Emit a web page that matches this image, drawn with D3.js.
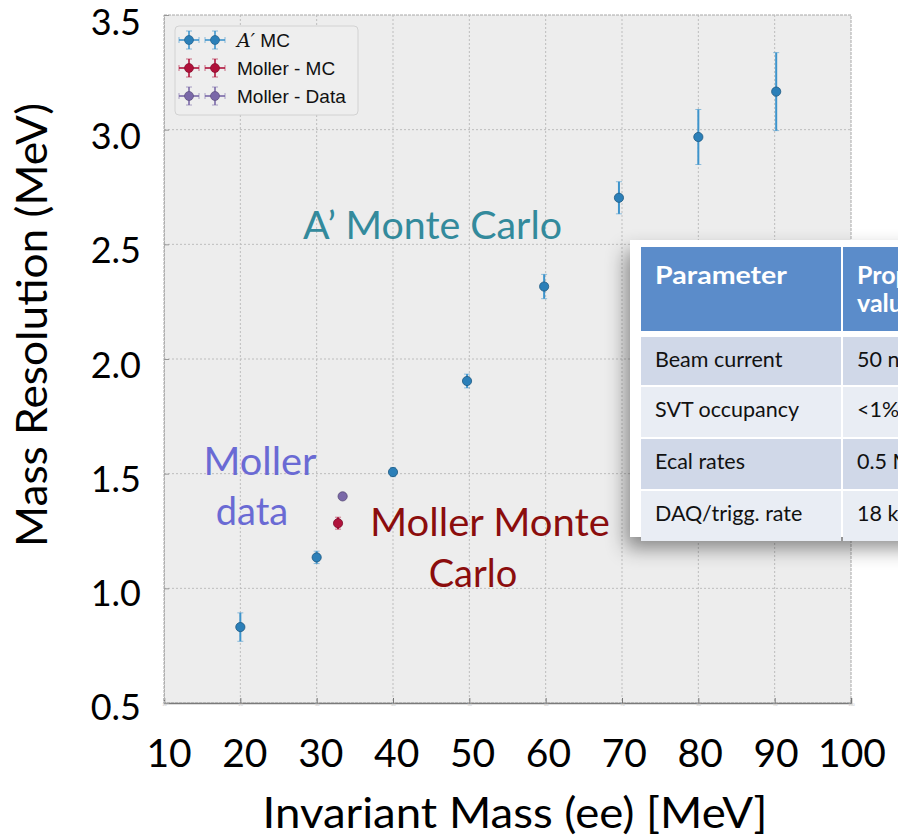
<!DOCTYPE html>
<html>
<head>
<meta charset="utf-8">
<script src="https://cdn.jsdelivr.net/npm/d3@7"></script>
<style>
  html, body { margin: 0; padding: 0; background: #ffffff; }
  svg { display: block; }
</style>
</head>
<body>
<svg id="chart" width="898" height="836"></svg>
<script>
// A' Monte Carlo mass resolution vs invariant mass
const apMass  = [20, 30, 40, 49.7, 59.8, 69.6, 80, 90.2];
const apRes   = [0.831, 1.135, 1.507, 1.904, 2.316, 2.703, 2.968, 3.166];
const apErr   = [0.062, 0.027, 0.020, 0.030, 0.053, 0.070, 0.120, 0.170];

// Moller Monte Carlo and Moller data
const mcMass   = [32.8];
const mcRes    = [1.284];
const mcErr    = [0.026];
const dataMass = [33.4];
const dataRes  = [1.401];
const dataErr  = [0.008];

// Axis tick labels
const xTicks = [10, 20, 30, 40, 50, 60, 70, 80, 90, 100];
const yTicks = [0.5, 1.0, 1.5, 2.0, 2.5, 3.0, 3.5];

// Legend entries
const legendLabels = ["MC", "Moller - MC", "Moller - Data"];

// Parameter table
const tableHeader = [["Parameter"], ["Proposed", "value"]];
const tableParams = ["Beam current", "SVT occupancy", "Ecal rates", "DAQ/trigg. rate"];
const tableValues = ["50 nA", "<1%", "0.5 MHz", "18 kHz"];

const colors = { ap: "#2b7fb8", apBar: "#3d94cc", mc: "#b0123b", data: "#7a68a8" };

const svg = d3.select("#chart");
const calibri = "Lato, 'Open Sans', sans-serif";

const x = d3.scaleLinear().domain([10, 100]).range([164, 851]);
const y = d3.scaleLinear().domain([0.5, 3.5]).range([703, 15]);
// slide-level tick labels sit on a slightly different grid
const xl = d3.scaleLinear().domain([10, 100]).range([169, 852]);
const yl = d3.scaleLinear().domain([0.5, 3.5]).range([707, 22]);

const defs = svg.append("defs");
const shadow = defs.append("filter").attr("id", "shadow")
  .attr("x", "-20%").attr("y", "-20%").attr("width", "140%").attr("height", "150%");
shadow.append("feDropShadow").attr("dx", -4).attr("dy", 11)
  .attr("stdDeviation", 10).attr("flood-color", "#000").attr("flood-opacity", 0.45);
defs.append("clipPath").attr("id", "tableClip")
  .append("rect").attr("x", 590).attr("y", 200).attr("width", 308).attr("height", 400);

// plot panel
const plot = svg.append("g");
plot.append("rect").attr("x", x(10)).attr("y", y(3.5))
  .attr("width", x(100) - x(10)).attr("height", y(0.5) - y(3.5))
  .attr("fill", "#ededed").attr("stroke", "#a8a8a8").attr("stroke-width", 1)
  .attr("stroke-dasharray", "3,1");

// dotted grid
plot.append("g").selectAll("line").data(xTicks.slice(1, -1)).join("line")
  .attr("x1", d => x(d)).attr("x2", d => x(d))
  .attr("y1", y(3.5)).attr("y2", y(0.5))
  .attr("stroke", "#bdbdbd").attr("stroke-width", 1).attr("stroke-dasharray", "2,2");
plot.append("g").selectAll("line").data(yTicks.slice(1, -1)).join("line")
  .attr("x1", x(10)).attr("x2", x(100))
  .attr("y1", d => y(d)).attr("y2", d => y(d))
  .attr("stroke", "#bdbdbd").attr("stroke-width", 1).attr("stroke-dasharray", "2,2");

// inner axes
const xAxisInner = d3.axisBottom(x).tickValues(xTicks).tickSize(-5).tickFormat(d3.format("d"));
const gx = plot.append("g").attr("transform", `translate(0,${y(0.5)})`).call(xAxisInner);
gx.select(".domain").attr("stroke", "#7a7a7a").attr("stroke-width", 1.5);
gx.selectAll(".tick line").attr("stroke", "#777");
gx.selectAll(".tick text").attr("font-size", 4).attr("fill", "#c4c4c4").attr("dy", 0);
const yAxisInner = d3.axisLeft(y).tickValues(yTicks).tickSize(-5).tickFormat("");
const gy = plot.append("g").attr("transform", `translate(${x(10)},0)`).call(yAxisInner);
gy.select(".domain").attr("stroke", "#b0b0b0").attr("stroke-width", 1).attr("stroke-dasharray", "3,1");
gy.selectAll(".tick line").attr("stroke", "#999");

// error bar points
function drawSeries(xs, ys, es, fill, barColor) {
  const g = plot.append("g");
  const pts = xs.map((m, i) => ({ m, v: ys[i], e: es[i] }));
  g.selectAll("line.bar").data(pts).join("line").attr("class", "bar")
    .attr("x1", d => x(d.m)).attr("x2", d => x(d.m))
    .attr("y1", d => y(d.v + d.e)).attr("y2", d => y(d.v - d.e))
    .attr("stroke", barColor).attr("stroke-width", 2);
  ["+", "-"].forEach(s => {
    g.selectAll("line.cap" + (s === "+" ? "t" : "b")).data(pts).join("line")
      .attr("class", "cap" + (s === "+" ? "t" : "b"))
      .attr("x1", d => x(d.m) - 3).attr("x2", d => x(d.m) + 3)
      .attr("y1", d => y(s === "+" ? d.v + d.e : d.v - d.e))
      .attr("y2", d => y(s === "+" ? d.v + d.e : d.v - d.e))
      .attr("stroke", barColor).attr("stroke-opacity", 0.55).attr("stroke-width", 1);
  });
  g.selectAll("circle").data(pts).join("circle")
    .attr("cx", d => x(d.m)).attr("cy", d => y(d.v)).attr("r", 4.6)
    .attr("fill", fill).attr("stroke", d3.color(fill).darker(1)).attr("stroke-width", 0.8);
}
drawSeries(apMass, apRes, apErr, colors.ap, colors.apBar);
drawSeries(mcMass, mcRes, mcErr, colors.mc, colors.mc);
drawSeries(dataMass, dataRes, dataErr, colors.data, colors.data);

// legend
const leg = plot.append("g");
leg.append("rect").attr("x", 175).attr("y", 26).attr("width", 183).attr("height", 89)
  .attr("rx", 4).attr("fill", "#eeeeee").attr("stroke", "#d2d2d2");
const legColors = [[colors.ap, colors.apBar], [colors.mc, colors.mc], [colors.data, colors.data]];
legendLabels.forEach((lab, i) => {
  const cy = 40 + i * 28;
  [189, 215].forEach(cx => {
    const [f, b] = legColors[i];
    leg.append("line").attr("x1", cx - 10).attr("x2", cx + 10).attr("y1", cy).attr("y2", cy)
      .attr("stroke", b).attr("stroke-width", 1.6);
    leg.append("line").attr("x1", cx).attr("x2", cx).attr("y1", cy - 9).attr("y2", cy + 9)
      .attr("stroke", b).attr("stroke-width", 1.6);
    [[cx - 10, cx - 10, cy - 3, cy + 3], [cx + 10, cx + 10, cy - 3, cy + 3],
     [cx - 3, cx + 3, cy - 9, cy - 9], [cx - 3, cx + 3, cy + 9, cy + 9]].forEach(c => {
      leg.append("line").attr("x1", c[0]).attr("x2", c[1]).attr("y1", c[2]).attr("y2", c[3])
        .attr("stroke", b).attr("stroke-opacity", 0.6).attr("stroke-width", 1);
    });
    leg.append("circle").attr("cx", cx).attr("cy", cy).attr("r", 4.5)
      .attr("fill", f).attr("stroke", d3.color(f).darker(1)).attr("stroke-width", 0.6);
  });
  const t = leg.append("text").attr("x", 237).attr("y", cy + 7)
    .attr("font-family", "'Liberation Sans', Arial, sans-serif").attr("font-size", 19).attr("fill", "#111");
  if (i === 0) {
    t.append("tspan").attr("font-family", "'DejaVu Serif', serif").attr("font-style", "italic").text("A′");
    t.append("tspan").text(" " + lab);
  } else {
    t.text(lab);
  }
});

// annotations
const ann = svg.append("g").attr("font-family", calibri).attr("font-size", 38);
ann.append("text").attr("x", 303).attr("y", 239).attr("fill", "#338a9c")
  .attr("textLength", 259).attr("lengthAdjust", "spacingAndGlyphs").text("A’ Monte Carlo");
ann.append("text").attr("x", 260).attr("y", 475).attr("text-anchor", "middle").attr("fill", "#6a6ad4")
  .attr("textLength", 113).attr("lengthAdjust", "spacingAndGlyphs").text("Moller");
ann.append("text").attr("x", 252).attr("y", 525).attr("text-anchor", "middle").attr("fill", "#6a6ad4")
  .text("data");
ann.append("text").attr("x", 490).attr("y", 536).attr("text-anchor", "middle").attr("fill", "#8b0d0d")
  .attr("textLength", 240).attr("lengthAdjust", "spacingAndGlyphs").text("Moller Monte");
ann.append("text").attr("x", 473).attr("y", 587).attr("text-anchor", "middle").attr("fill", "#8b0d0d")
  .text("Carlo");

// slide-level tick labels and titles
const lab = svg.append("g").attr("font-family", calibri).attr("fill", "#000");
lab.selectAll("text.xt").data(xTicks).join("text").attr("class", "xt")
  .attr("x", d => xl(d)).attr("y", 767).attr("text-anchor", "middle")
  .attr("font-size", 39).text(d => d3.format("d")(d));
lab.selectAll("text.yt").data(yTicks).join("text").attr("class", "yt")
  .attr("x", 141).attr("y", d => yl(d) + 13).attr("text-anchor", "end")
  .attr("font-size", 36).text(d => d3.format(".1f")(d));
lab.append("text").attr("x", 515).attr("y", 828).attr("text-anchor", "middle")
  .attr("font-size", 42).attr("textLength", 505).attr("lengthAdjust", "spacingAndGlyphs")
  .text("Invariant Mass (ee) [MeV]");
lab.append("text").attr("transform", "translate(47,325) rotate(-90)").attr("text-anchor", "middle")
  .attr("font-size", 42).attr("textLength", 444).attr("lengthAdjust", "spacingAndGlyphs")
  .text("Mass Resolution (MeV)");

// parameter table (runs past the right edge)
const tbl = svg.append("g").attr("clip-path", "url(#tableClip)").attr("font-family", "Lato, 'Open Sans', sans-serif");
tbl.append("rect").attr("x", 630).attr("y", 240).attr("width", 300).attr("height", 297)
  .attr("fill", "#ffffff").attr("filter", "url(#shadow)");
const colX = [641, 843];
const colW = [200, 120];
colX.forEach((cx, i) => {
  tbl.append("rect").attr("x", cx).attr("y", 247).attr("width", colW[i]).attr("height", 84).attr("fill", "#5b8cca");
  tableHeader[i].forEach((line, j) => {
    const t = tbl.append("text").attr("x", cx + 14).attr("y", 284 + j * 28).attr("fill", "#fff")
      .attr("font-weight", "bold").attr("font-size", 25).text(line);
    if (i === 0) t.attr("textLength", 132).attr("lengthAdjust", "spacingAndGlyphs");
  });
});
const rowY = [337, 387, 439, 491];
const rowH = [48, 50, 50, 50];
tableParams.forEach((p, i) => {
  const fill = i % 2 === 0 ? "#d0d8e8" : "#e9edf4";
  colX.forEach((cx, c) => {
    tbl.append("rect").attr("x", cx).attr("y", rowY[i]).attr("width", colW[c]).attr("height", rowH[i]).attr("fill", fill);
    tbl.append("text").attr("x", cx + 14).attr("y", rowY[i] + 30).attr("font-size", 21.5).attr("fill", "#111")
      .text(c === 0 ? p : tableValues[i]);
  });
});
</script>
</body>
</html>
